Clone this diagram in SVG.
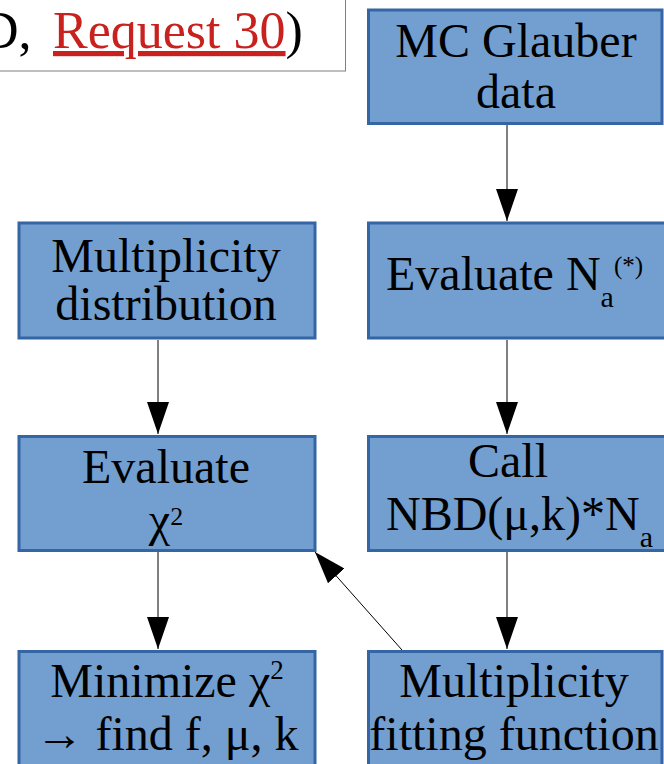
<svg xmlns="http://www.w3.org/2000/svg" width="664" height="764" viewBox="0 0 664 764">
<defs>
<style>
.box{fill:#729fcf;stroke:#3465a4;stroke-width:3}
.t{font-family:"Liberation Serif","Times New Roman",serif;font-size:48px;fill:#000}
.c{text-anchor:middle}
.sub{font-size:30px}
.sup{font-size:25px}
.conn{stroke:#000;stroke-width:1;fill:none;marker-end:url(#ah)}
</style>
<marker id="ah" markerUnits="userSpaceOnUse" markerWidth="32" markerHeight="22" refX="32" refY="11" orient="auto" viewBox="0 0 32 22">
<path d="M0,0 L32,11 L0,22 Z" fill="#000"/>
</marker>
</defs>
<rect width="664" height="764" fill="#fff"/>

<g id="title">
<rect x="-10" y="-10" width="355.5" height="81" fill="#fff" stroke="#7f7f7f" stroke-width="1"/>
<text class="t" x="-19" y="48" style="font-size:52px">D,<tspan x="53" fill="#c9211e" text-decoration="underline">Request 30</tspan>)</text>
</g>

<g id="connectors">
<line class="conn" x1="507" y1="125" x2="507" y2="221"/>
<line class="conn" x1="158" y1="340" x2="158" y2="434"/>
<line class="conn" x1="507" y1="340" x2="507" y2="434"/>
<line class="conn" x1="158" y1="552" x2="158" y2="649"/>
<line class="conn" x1="507" y1="552" x2="507" y2="649"/>
<line class="conn" x1="402" y1="650" x2="315" y2="552"/>
</g>

<g id="mc-glauber">
<rect class="box" x="368.5" y="10" width="293.5" height="113.5"/>
<text class="t c" x="516" y="57">MC Glauber</text>
<text class="t c" x="516" y="108">data</text>
</g>

<g id="multiplicity-distribution">
<rect class="box" x="19" y="223" width="296" height="115"/>
<text class="t c" x="166" y="272">Multiplicity</text>
<text class="t c" x="166" y="320">distribution</text>
</g>

<g id="evaluate-na">
<rect class="box" x="368.5" y="223" width="297" height="115"/>
<text class="t" x="386" y="290">Evaluate N<tspan class="sub" dy="17">a</tspan><tspan class="sup" dy="-33">(*)</tspan></text>
</g>

<g id="evaluate-chi2">
<rect class="box" x="19" y="436.5" width="296" height="114"/>
<text class="t c" x="166" y="483">Evaluate</text>
<text class="t c" x="166" y="536">χ<tspan class="sup" style="font-size:26px" dy="-11">2</tspan></text>
</g>

<g id="call-nbd">
<rect class="box" x="368.5" y="436.5" width="297" height="114"/>
<text class="t c" x="508" y="477">Call</text>
<text class="t" x="386" y="530">NBD(μ,k)*N<tspan class="sub" dy="17">a</tspan></text>
</g>

<g id="minimize">
<rect class="box" x="19" y="651.5" width="296" height="130"/>
<text class="t c" x="167" y="697">Minimize χ<tspan class="sup" style="font-size:27px" dy="-18">2</tspan></text>
<text class="t c" x="167" y="750">→ find f, μ, k</text>
</g>

<g id="multiplicity-fitting">
<rect class="box" x="368.5" y="651.5" width="293.5" height="130"/>
<text class="t c" x="514" y="697">Multiplicity</text>
<text class="t c" x="514" y="750">fitting function</text>
</g>
</svg>
